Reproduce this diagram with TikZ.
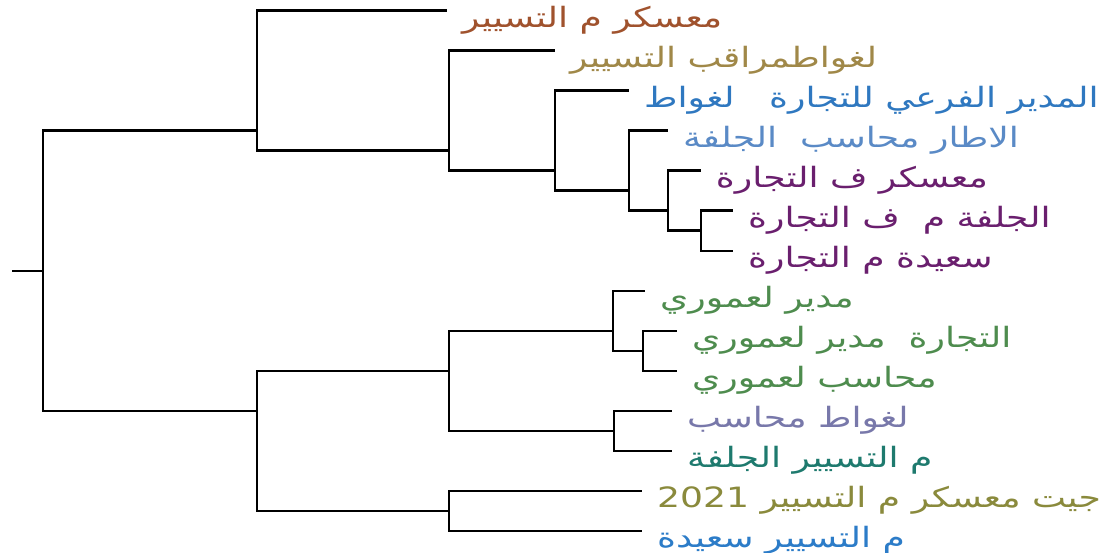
\documentclass[tikz,border=0pt]{standalone}
\usepackage{fontspec}
\usepackage{graphicx}
\TeXXeTstate=1
\newfontfamily\arabicfont[Script=Arabic]{DejaVu Sans}
\newcommand{\wide}[1]{\scalebox{1.29}[1]{#1}}
\definecolor{cA}{HTML}{A0522D}
\definecolor{cB}{HTML}{A08848}
\definecolor{cC}{HTML}{2F78C0}
\definecolor{cD}{HTML}{5A8AC6}
\definecolor{cE}{HTML}{6A1F6E}
\definecolor{cF}{HTML}{4E8C4E}
\definecolor{cG}{HTML}{7878AA}
\definecolor{cH}{HTML}{1E7A6E}
\definecolor{cI}{HTML}{8A8A3C}
\definecolor{cJ}{HTML}{2C7CC8}
\tikzset{
  edge/.style={draw=black, line width=2.4pt, line join=miter},
  lbl/.style={anchor=west, inner sep=0pt, font=\arabicfont\fontsize{28}{32}\selectfont, xshift=15pt, yshift=-10pt}
}
\begin{document}
\begin{tikzpicture}[x=1pt,y=-1pt]
\useasboundingbox[fill=white] (0,0) rectangle (1107,553);
% internal nodes
\coordinate (s) at (12,270.7);
\coordinate (R) at (42.7,270.7);
\coordinate (A) at (257,130.7);
\coordinate (B) at (449,150.7);
\coordinate (C) at (555,170.7);
\coordinate (D) at (629,190.7);
\coordinate (E) at (668,210.7);
\coordinate (F) at (700.7,230.7);
\coordinate (G) at (257,410.7);
\coordinate (H) at (449,370.7);
\coordinate (I) at (612.7,330.7);
\coordinate (J) at (643,350.7);
\coordinate (K) at (614,430.7);
\coordinate (L) at (449,510.7);
% tips
\coordinate (t0) at (447,10.7);
\coordinate (t1) at (555,50.7);
\coordinate (t2) at (629,90.7);
\coordinate (t3) at (668,130.7);
\coordinate (t4) at (700.7,170.7);
\coordinate (t5) at (733,210.7);
\coordinate (t6) at (733,250.7);
\coordinate (t7) at (645,290.7);
\coordinate (t8) at (677,330.7);
\coordinate (t9) at (677,370.7);
\coordinate (t10) at (672,410.7);
\coordinate (t11) at (672,450.7);
\coordinate (t12) at (642,490.7);
\coordinate (t13) at (642,530.7);
% edges
\path[edge] (s) -- (R);
\path[edge] (R) |- (A);
\path[edge] (R) |- (G);
\path[edge] (A) |- (t0);
\path[edge] (A) |- (B);
\path[edge] (B) |- (t1);
\path[edge] (B) |- (C);
\path[edge] (C) |- (t2);
\path[edge] (C) |- (D);
\path[edge] (D) |- (t3);
\path[edge] (D) |- (E);
\path[edge] (E) |- (t4);
\path[edge] (E) |- (F);
\path[edge] (F) |- (t5);
\path[edge] (F) |- (t6);
\path[edge] (G) |- (H);
\path[edge] (G) |- (L);
\path[edge] (H) |- (I);
\path[edge] (H) |- (K);
\path[edge] (I) |- (t7);
\path[edge] (I) |- (J);
\path[edge] (J) |- (t8);
\path[edge] (J) |- (t9);
\path[edge] (K) |- (t10);
\path[edge] (K) |- (t11);
\path[edge] (L) |- (t12);
\path[edge] (L) |- (t13);
% labels
\node[lbl, text=cA] (l0) at (t0) {\wide{\beginR معسكر م التسيير\endR}};
\node[lbl, text=cB] (l1) at (t1) {\wide{\beginR لغواطمراقب التسيير\endR}};
\node[lbl, text=cC] (l2) at (t2) {\wide{\beginR المدير الفرعي للتجارة~~~لغواط\endR}};
\node[lbl, text=cD] (l3) at (t3) {\wide{\beginR الاطار محاسب~~الجلفة\endR}};
\node[lbl, text=cE] (l4) at (t4) {\wide{\beginR معسكر ف التجارة\endR}};
\node[lbl, text=cE] (l5) at (t5) {\wide{\beginR الجلفة م~~ف التجارة\endR}};
\node[lbl, text=cE] (l6) at (t6) {\wide{\beginR سعيدة م التجارة\endR}};
\node[lbl, text=cF] (l7) at (t7) {\wide{\beginR مدير لعموري\endR}};
\node[lbl, text=cF] (l8) at (t8) {\wide{\beginR التجارة~~مدير لعموري\endR}};
\node[lbl, text=cF] (l9) at (t9) {\wide{\beginR محاسب لعموري\endR}};
\node[lbl, text=cG] (l10) at (t10) {\wide{\beginR لغواط محاسب\endR}};
\node[lbl, text=cH] (l11) at (t11) {\wide{\beginR م التسيير الجلفة\endR}};
\node[lbl, text=cI] (l12) at (t12) {\wide{\beginR جيت معسكر م التسيير \beginL 2021\endL{}\endR}};
\node[lbl, text=cJ] (l13) at (t13) {\wide{\beginR م التسيير سعيدة\endR}};
\end{tikzpicture}
\end{document}
